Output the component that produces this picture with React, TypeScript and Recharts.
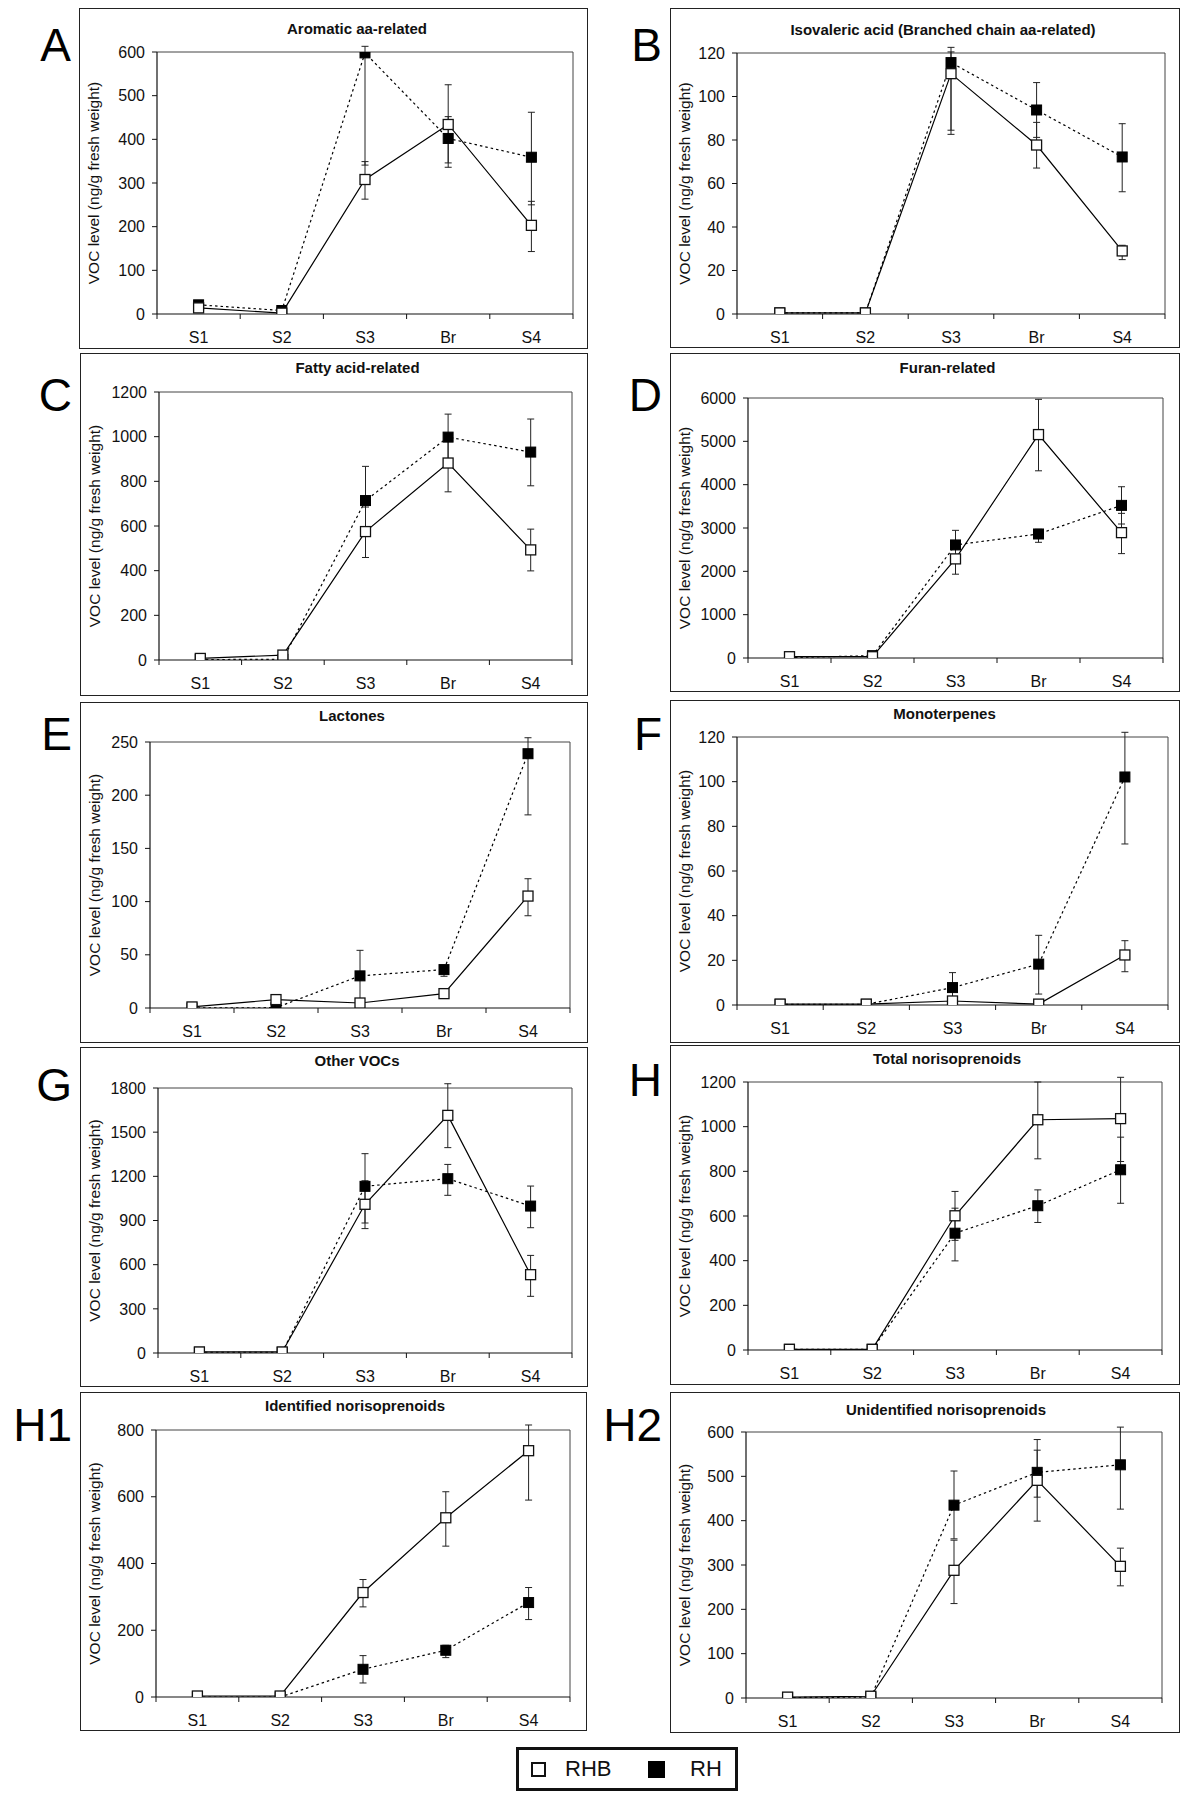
import React from 'react';
import { LineChart, Line, XAxis, YAxis, CartesianGrid, ErrorBar } from 'recharts';

const FONT = '"Liberation Sans", Arial, Helvetica, sans-serif';
const INK = '#111';
const Y_LABEL = 'VOC level (ng/g fresh weight)';

const stages = ['S1', 'S2', 'S3', 'Br', 'S4'];

// A - aromatic aa-related
const aromaticRHB = [14, 2, 308, 434, 203];
const aromaticRHBErr = [0, 0, [45, 41], [88, 91], [60, 55]];
const aromaticRH = [21, 8, 598, 402, 359];
const aromaticRHErr = [0, 0, [257, 15], [66, 50], [109, 103]];
const aromaticTicks = [0, 100, 200, 300, 400, 500, 600];

// B - isovaleric acid
const isoRHB = [0.5, 0.5, 110.5, 77.7, 29];
const isoRHBErr = [0, 0, [26, 10], [10.6, 10.4], [4, 2.6]];
const isoRH = [0.5, 0.5, 115.6, 93.8, 72.2];
const isoRHErr = [0, 0, [33, 7], 12.6, [16, 15.3]];
const isoTicks = [0, 20, 40, 60, 80, 100, 120];

// C - fatty acid-related
const fattyRHB = [7, 22, 575, 882, 493];
const fattyRHBErr = [0, 0, [116, 110], [129, 129], [94, 93]];
const fattyRH = [2, 3, 714, 998, 931];
const fattyRHErr = [0, 0, [156, 153], [100, 103], [151, 148]];
const fattyTicks = [0, 200, 400, 600, 800, 1000, 1200];

// D - furan-related
const furanRHB = [30, 30, 2287, 5156, 2893];
const furanRHBErr = [0, 0, [353, 350], [836, 813], [484, 445]];
const furanRH = [10, 54, 2609, 2862, 3522];
const furanRHErr = [0, 0, [340, 337], [192, 107], [430, 430]];
const furanTicks = [0, 1000, 2000, 3000, 4000, 5000, 6000];

// E - lactones
const lactoneRHB = [1, 7.9, 4.7, 13.5, 105.2];
const lactoneRHBErr = [0, 0, 0, 0, [18.5, 16.3]];
const lactoneRH = [0, 0.3, 30.2, 36.1, 239];
const lactoneRHErr = [0, 0, [24, 24], [6.3, 3.8], [57.5, 15]];
const lactoneTicks = [0, 50, 100, 150, 200, 250];

// F - monoterpenes
const monoRHB = [0.4, 0.4, 1.8, 0.4, 22.4];
const monoRHBErr = [0, 0, 0, 0, [7.5, 6.4]];
const monoRH = [0.3, 0.3, 7.8, 18.3, 102.1];
const monoRHErr = [0, 0, [6.7, 6.7], [13.4, 12.9], [30, 20]];
const monoTicks = [0, 20, 40, 60, 80, 100, 120];

// G - other VOCs
const otherRHB = [7, 7, 1010, 1614, 532];
const otherRHBErr = [0, 0, [165, 160], [219, 215], [147, 131]];
const otherRH = [5, 5, 1132, 1184, 998];
const otherRHErr = [0, 0, [249, 222], [113, 97], [147, 136]];
const otherTicks = [0, 300, 600, 900, 1200, 1500, 1800];

// H - total norisoprenoids
const totalRHB = [3, 3, 601, 1031, 1036];
const totalRHBErr = [0, 0, [110, 109], [175, 169], [192, 185]];
const totalRH = [3, 3, 523, 646, 807];
const totalRHErr = [0, 0, [124, 112], [75, 71], [150, 146]];
const totalTicks = [0, 200, 400, 600, 800, 1000, 1200];

// H1 - identified norisoprenoids
const identRHB = [3, 3, 313, 537, 738];
const identRHBErr = [0, 0, [43, 39], [85, 78], [148, 77]];
const identRH = [0, 0, 83, 140, 283];
const identRHErr = [0, 0, [41, 41], [22, 15], [51, 45]];
const identTicks = [0, 200, 400, 600, 800];

// H2 - unidentified norisoprenoids
const unidentRHB = [2, 4, 288, 491, 297];
const unidentRHBErr = [0, 0, [75, 68], [92, 68], [44, 41]];
const unidentRH = [1, 2, 435, 509, 526];
const unidentRHErr = [0, 0, [76, 77], [56, 74], [100, 85]];
const unidentTicks = [0, 100, 200, 300, 400, 500, 600];

const panels = [
  { id: 'A', title: 'Aromatic aa-related', rhb: aromaticRHB, rhbErr: aromaticRHBErr, rh: aromaticRH, rhErr: aromaticRHErr, ticks: aromaticTicks },
  { id: 'B', title: 'Isovaleric acid (Branched chain aa-related)', rhb: isoRHB, rhbErr: isoRHBErr, rh: isoRH, rhErr: isoRHErr, ticks: isoTicks },
  { id: 'C', title: 'Fatty acid-related', rhb: fattyRHB, rhbErr: fattyRHBErr, rh: fattyRH, rhErr: fattyRHErr, ticks: fattyTicks },
  { id: 'D', title: 'Furan-related', rhb: furanRHB, rhbErr: furanRHBErr, rh: furanRH, rhErr: furanRHErr, ticks: furanTicks },
  { id: 'E', title: 'Lactones', rhb: lactoneRHB, rhbErr: lactoneRHBErr, rh: lactoneRH, rhErr: lactoneRHErr, ticks: lactoneTicks },
  { id: 'F', title: 'Monoterpenes', rhb: monoRHB, rhbErr: monoRHBErr, rh: monoRH, rhErr: monoRHErr, ticks: monoTicks },
  { id: 'G', title: 'Other VOCs', rhb: otherRHB, rhbErr: otherRHBErr, rh: otherRH, rhErr: otherRHErr, ticks: otherTicks },
  { id: 'H', title: 'Total norisoprenoids', rhb: totalRHB, rhbErr: totalRHBErr, rh: totalRH, rhErr: totalRHErr, ticks: totalTicks },
  { id: 'H1', title: 'Identified norisoprenoids', rhb: identRHB, rhbErr: identRHBErr, rh: identRH, rhErr: identRHErr, ticks: identTicks },
  { id: 'H2', title: 'Unidentified norisoprenoids', rhb: unidentRHB, rhbErr: unidentRHBErr, rh: unidentRH, rhErr: unidentRHErr, ticks: unidentTicks },
];

// page layout: box [x, y, w, h], plot [left, top, right, bottom]
const layout: Record<string, any> = {
  A: { box: [79, 8, 509, 341], plot: [157, 52, 573, 314], titleDy: 21, letterTop: 28 },
  B: { box: [670, 8, 510, 340], plot: [737, 53, 1165, 314], titleDy: 22, letterTop: 28 },
  C: { box: [80, 353, 508, 343], plot: [159, 392, 572, 660], titleDy: 15, letterTop: 378 },
  D: { box: [670, 353, 510, 339], plot: [748, 398, 1163, 658], titleDy: 15, letterTop: 378 },
  E: { box: [80, 702, 508, 341], plot: [150, 742, 570, 1008], titleDy: 14, letterTop: 717 },
  F: { box: [670, 700, 510, 343], plot: [737, 737, 1168, 1005], titleDy: 14, letterTop: 717 },
  G: { box: [80, 1047, 508, 340], plot: [158, 1088, 572, 1353], titleDy: 14, letterTop: 1068 },
  H: { box: [670, 1045, 510, 340], plot: [748, 1082, 1162, 1350], titleDy: 14, letterTop: 1063 },
  H1: { box: [80, 1392, 507, 339], plot: [156, 1430, 570, 1697], titleDy: 14, letterTop: 1408 },
  H2: { box: [670, 1392, 510, 341], plot: [746, 1432, 1162, 1698], titleDy: 18, letterTop: 1408 },
};

const XH = 30;
const X_TICK_SIZE = 5;
const X_TICK_MARGIN = 13;

function OpenSquare(props: any) {
  const { cx, cy } = props;
  if (cx == null || cy == null) return null;
  return <rect x={cx - 5} y={cy - 5} width={10} height={10} fill="#fff" stroke={INK} strokeWidth={1.3} />;
}

function FilledSquare(props: any) {
  const { cx, cy } = props;
  if (cx == null || cy == null) return null;
  return <rect x={cx - 5} y={cy - 5} width={10} height={10} fill="#000" stroke="#000" strokeWidth={1} />;
}

// category label at band centre, tick marks on the band edges (Excel style)
function StageTick(props: any) {
  const { x, y, payload, index, visibleTicksCount, band } = props;
  const axisY = y - X_TICK_SIZE - X_TICK_MARGIN;
  const left = x - band / 2;
  const right = x + band / 2;
  return (
    <g>
      <line x1={left} x2={left} y1={axisY} y2={axisY + 5} stroke={INK} strokeWidth={1} />
      {index === visibleTicksCount - 1 && (
        <line x1={right} x2={right} y1={axisY} y2={axisY + 5} stroke={INK} strokeWidth={1} />
      )}
      <text x={x} y={y} dy="0.71em" textAnchor="middle" fontSize={16} fill={INK} fontFamily={FONT}>
        {payload.value}
      </text>
    </g>
  );
}

function Panel({ cfg }: { cfg: any }) {
  const lay = layout[cfg.id];
  const [bx, by, bw, bh] = lay.box;
  const [pl, pt, pr, pb] = lay.plot;
  const band = (pr - pl) / stages.length;
  const rows = stages.map((stage, i) => ({
    stage,
    rhb: cfg.rhb[i],
    rhbErr: cfg.rhbErr[i],
    rh: cfg.rh[i],
    rhErr: cfg.rhErr[i],
  }));
  const ticks = cfg.ticks;
  const titleCx = (pl + pr) / 2 - 8;

  return (
    <>
      <div
        style={{
          position: 'absolute', left: bx, top: by, width: bw, height: bh,
          border: '1.5px solid #222', boxSizing: 'border-box',
        }}
      />
      <div style={{ position: 'absolute', left: bx, top: by }}>
        <LineChart
          width={bw}
          height={bh}
          data={rows}
          margin={{ top: pt - by, right: bx + bw - pr, bottom: by + bh - pb - XH, left: 0 }}
        >
          <CartesianGrid
            stroke="#444"
            strokeWidth={1}
            horizontalCoordinatesGenerator={(p: any) => [p?.offset?.top ?? 0]}
            verticalCoordinatesGenerator={(p: any) => [(p?.offset?.left ?? 0) + (p?.offset?.width ?? 0)]}
          />
          <XAxis
            dataKey="stage"
            scale="band"
            height={XH}
            interval={0}
            tickLine={false}
            tickSize={X_TICK_SIZE}
            tickMargin={X_TICK_MARGIN}
            axisLine={{ stroke: INK, strokeWidth: 1.2 }}
            tick={<StageTick band={band} />}
          />
          <YAxis
            type="number"
            domain={[ticks[0], ticks[ticks.length - 1]]}
            ticks={ticks}
            allowDataOverflow
            interval={0}
            width={pl - bx}
            tickSize={5}
            tickMargin={7}
            axisLine={{ stroke: INK, strokeWidth: 1.2 }}
            tickLine={{ stroke: INK }}
            tick={{ fontSize: 16, fill: INK, fontFamily: FONT }}
            label={{
              value: Y_LABEL,
              angle: -90,
              position: 'insideLeft',
              offset: 14,
              style: { textAnchor: 'middle', fontSize: 15.5, fill: INK, fontFamily: FONT },
            }}
          />
          <Line
            type="linear"
            dataKey="rh"
            stroke="#000"
            strokeWidth={1.2}
            strokeDasharray="2.5 3"
            dot={<FilledSquare />}
            activeDot={false}
            isAnimationActive={false}
          >
            <ErrorBar dataKey="rhErr" width={3.5} stroke="#222" strokeWidth={1} direction="y" isAnimationActive={false} />
          </Line>
          <Line
            type="linear"
            dataKey="rhb"
            stroke="#000"
            strokeWidth={1.2}
            dot={<OpenSquare />}
            activeDot={false}
            isAnimationActive={false}
          >
            <ErrorBar dataKey="rhbErr" width={3.5} stroke="#222" strokeWidth={1} direction="y" isAnimationActive={false} />
          </Line>
        </LineChart>
      </div>
      <div
        style={{
          position: 'absolute', left: titleCx - 220, width: 440, top: by + lay.titleDy - 9,
          textAlign: 'center', fontFamily: FONT, fontWeight: 700, fontSize: 15, lineHeight: '17px', color: INK,
        }}
      >
        {cfg.title}
      </div>
      <div
        style={{
          position: 'absolute', left: bx - 8 - 120, width: 120, top: lay.letterTop - 6,
          textAlign: 'right', fontFamily: FONT, fontSize: 46, lineHeight: '46px', color: '#000',
        }}
      >
        {cfg.id}
      </div>
    </>
  );
}

function LegendBox() {
  const sq = { display: 'inline-block', width: 15, height: 15, boxSizing: 'border-box' as const };
  return (
    <div
      style={{
        position: 'absolute', left: 516, top: 1747, width: 222, height: 44,
        border: '3px solid #111', boxSizing: 'border-box', fontFamily: FONT, fontSize: 22, color: INK,
      }}
    >
      <span style={{ ...sq, position: 'absolute', left: 12, top: 12, border: '2.5px solid #111', background: '#fff' }} />
      <span style={{ position: 'absolute', left: 46, top: 6, lineHeight: '26px' }}>RHB</span>
      <span style={{ ...sq, position: 'absolute', left: 129, top: 11, width: 17, height: 17, background: '#000' }} />
      <span style={{ position: 'absolute', left: 171, top: 6, lineHeight: '26px' }}>RH</span>
    </div>
  );
}

export default function App() {
  return (
    <div style={{ position: 'absolute', left: 0, top: 0, width: 1200, height: 1809, background: '#fff' }}>
      {panels.map((p) => (
        <Panel key={p.id} cfg={p} />
      ))}
      <LegendBox />
    </div>
  );
}
